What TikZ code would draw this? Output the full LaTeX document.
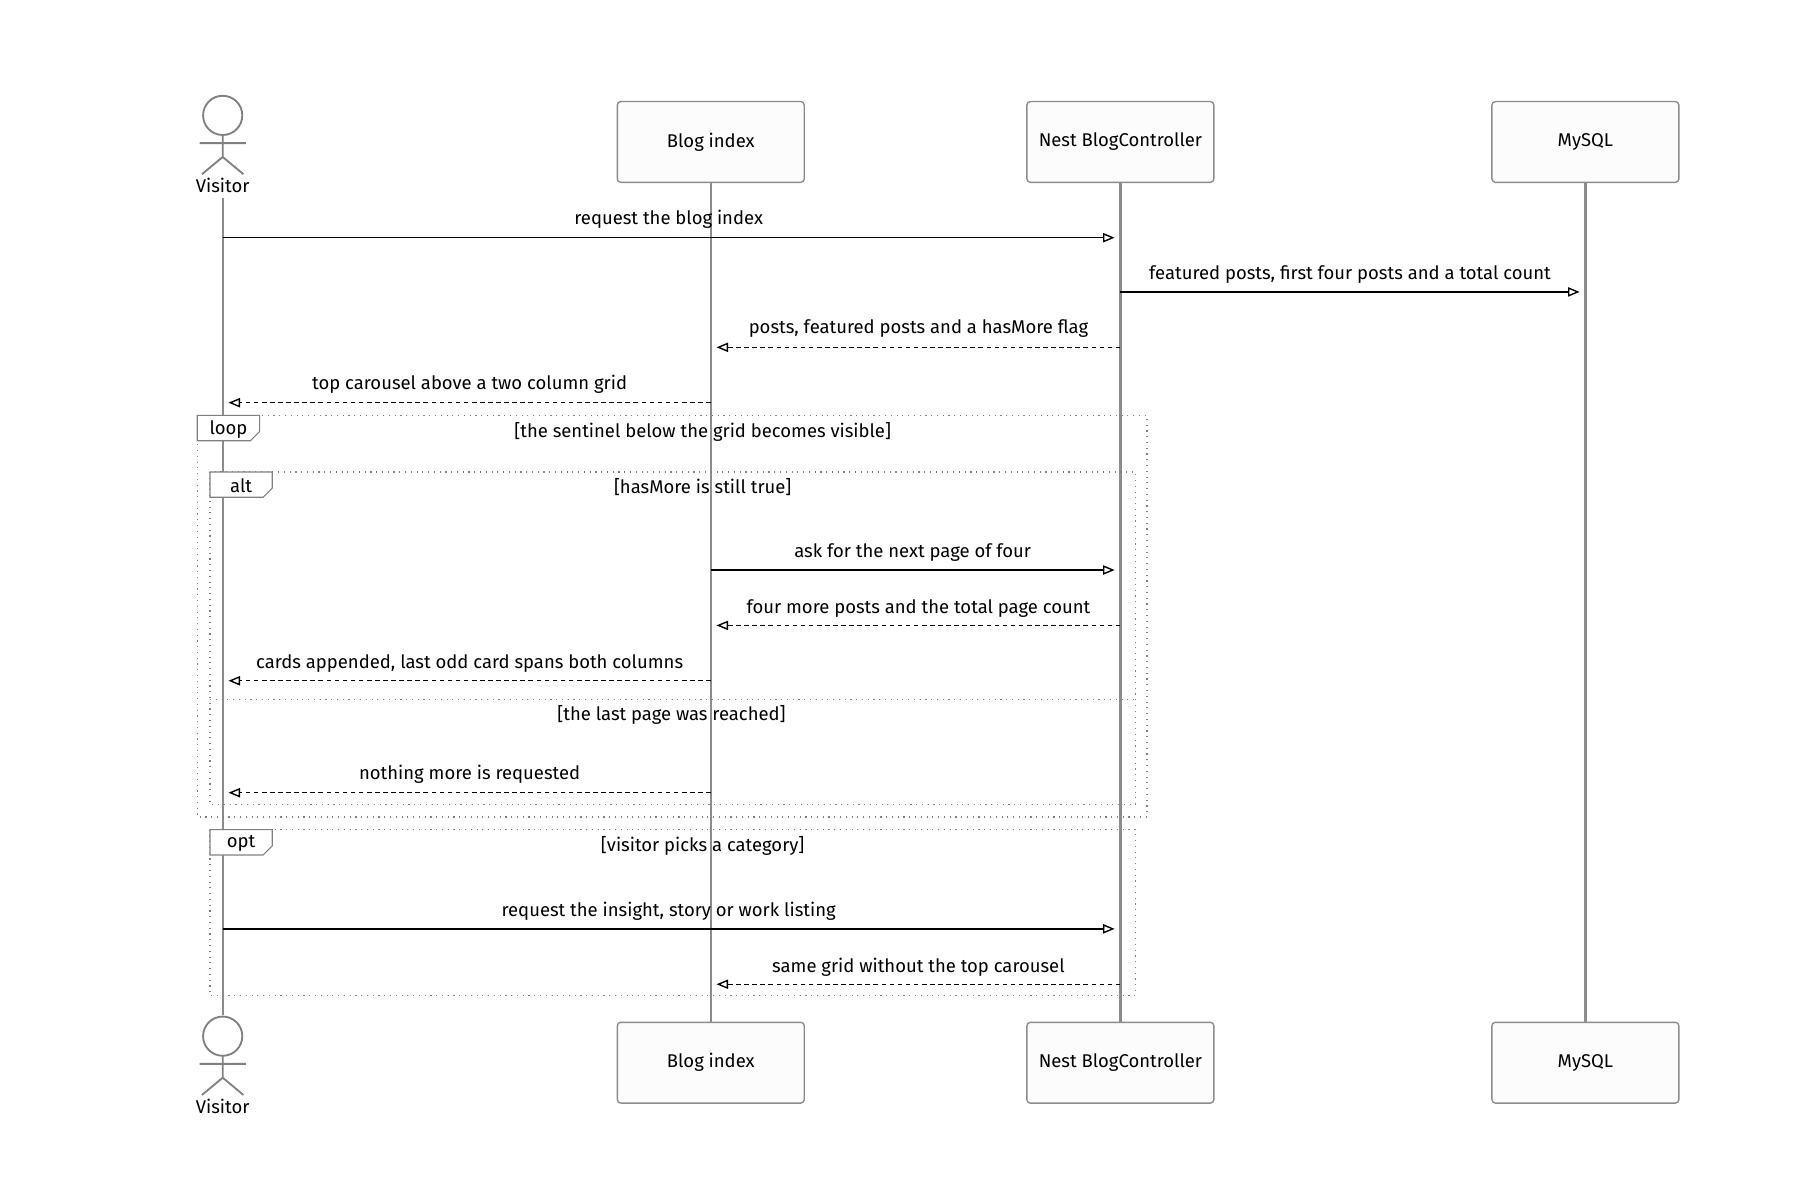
\documentclass[tikz,border=0pt]{standalone}
\usepackage{fontspec}
\setmainfont{Fira Sans}
\usetikzlibrary{arrows.meta}
\begin{document}
\begin{tikzpicture}[x=0.5pt,y=-0.5pt,font=\fontsize{8}{10}\selectfont,
  box/.style={draw=black!45,fill=black!1,line width=0.6pt,rounded corners=1.5pt,minimum width=81pt,minimum height=35pt,inner sep=0},
  life/.style={draw=black!45,line width=1pt},
  msg/.style={draw=black,line width=0.6pt,-{Triangle[open,length=5pt,width=4pt]}},
  ret/.style={msg,dash pattern=on 2pt off 1.5pt},
  frame/.style={draw=black!50,line width=0.5pt,dotted},
  actor/.style={draw=black!50,line width=0.8pt}]
\useasboundingbox (0,0) rectangle (1560,1040);
% participants
\node[box] (b1) at (616,123) {Blog index};
\node[box] (n1) at (971,123) {Nest BlogController};
\node[box] (m1) at (1374,123) {MySQL};
\node[box] (b2) at (616,921) {Blog index};
\node[box] (n2) at (971,921) {Nest BlogController};
\node[box] (m2) at (1374,921) {MySQL};
\node (v1) at (193,161) {Visitor};
\node (v2) at (193,959) {Visitor};
\foreach \y in {0,798}{
  \draw[actor] (193,100+\y) circle (8.5pt);
  \draw[actor] (193,117+\y) -- (193,136+\y) (173,124+\y) -- (213,124+\y)
    (193,136+\y) -- (175,151+\y) (193,136+\y) -- (211,151+\y);
}
\coordinate (vt) at (193,172); \coordinate (vb) at (193,880);
\draw[life] (vt) -- (vb);
\draw[life] (b1) -- (b2);
\draw[life] (n1) -- (n2);
\draw[life] (m1) -- (m2);
% frames
\draw[frame] (171,360) rectangle (994,708);
\draw[frame] (182,409) rectangle (984,697);
\draw[frame] (182,606) -- (984,606);
\draw[frame] (182,719) rectangle (984,863);
\foreach \x/\y/\t in {171/360/loop,182/409/alt,182/719/opt}{
  \draw[draw=black!50,line width=0.5pt,fill=white] (\x,\y) -- (\x+54,\y) -- (\x+54,\y+14) -- (\x+46,\y+22) -- (\x,\y+22) -- cycle;
  \node at (\x+27,\y+12) {\t};
}
\node at (609,374) {[the sentinel below the grid becomes visible]};
\node at (609,422) {[hasMore is still true]};
\node at (582,620) {[the last page was reached]};
\node at (609,733) {[visitor picks a category]};
% messages
\newcommand\msgline[7]{%
  \coordinate (s#7) at (#1,#3); \coordinate (e#7) at (#2,#3);
  \draw[#5] (s#7) -- (e#7);
  \node at ({(#1+#2)/2},#4) {#6};}
\msgline{193}{966}{206}{190}{msg}{request the blog index}{1}
\msgline{971}{1369}{253}{238}{msg}{featured posts, first four posts and a total count}{2}
\msgline{971}{621}{301}{285}{ret}{posts, featured posts and a hasMore flag}{3}
\msgline{616}{198}{349}{333}{ret}{top carousel above a two column grid}{4}
\msgline{616}{966}{494}{479}{msg}{ask for the next page of four}{5}
\msgline{971}{621}{542}{527}{ret}{four more posts and the total page count}{6}
\msgline{616}{198}{590}{575}{ret}{cards appended, last odd card spans both columns}{7}
\msgline{616}{198}{687}{671}{ret}{nothing more is requested}{8}
\msgline{193}{966}{805}{790}{msg}{request the insight, story or work listing}{9}
\msgline{971}{621}{853}{838}{ret}{same grid without the top carousel}{10}
\end{tikzpicture}
\end{document}
